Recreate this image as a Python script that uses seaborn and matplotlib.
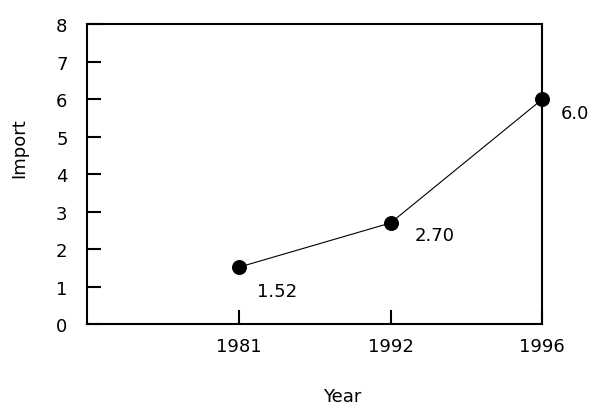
import matplotlib
matplotlib.use("Agg")
import matplotlib.pyplot as plt
import pandas as pd
import seaborn as sns

# datos
years = ["1981", "1992", "1996"]
imports = [1.52, 2.70, 6.0]
labels = ["1.52", "2.70", "6.0"]

df = pd.DataFrame({"Year": years, "Import": imports})

sns.set_style("white", {"xtick.bottom": True, "ytick.left": True,
                        "text.color": "black", "axes.labelcolor": "black"})
plt.rcParams['font.family'] = ['DejaVu Sans']

fig, ax = plt.subplots(figsize=(5.96, 4.06), dpi=100)
fig.subplots_adjust(left=0.146, right=0.910, top=0.938, bottom=0.199)

sns.lineplot(data=df, x="Year", y="Import", ax=ax, color="black", linewidth=0.8,
             marker="o", markersize=10, markeredgecolor="black", clip_on=False)

# etiquetas de cada punto
offsets = [(13, -17), (17, -9), (13, -10)]
for i, (lab, off) in enumerate(zip(labels, offsets)):
    ax.annotate(lab, xy=(i, imports[i]), xytext=off, textcoords="offset points",
                fontsize=13, ha="left", va="center", color="black")

ax.set_xlim(-1, 2)
ax.set_ylim(0, 8)
ax.set_yticks(range(0, 9))

for s in ax.spines.values():
    s.set_linewidth(1.5)
    s.set_color("black")

ax.tick_params(axis="both", direction="in", length=10, width=1.5, labelsize=13,
               colors="black", bottom=True, left=True)
ax.tick_params(axis="y", pad=14)
ax.tick_params(axis="x", pad=9)

ax.set_xlabel("Year", fontsize=13)
ax.set_ylabel("Import", fontsize=13)
ax.xaxis.set_label_coords(0.56, -0.21)
ax.yaxis.set_label_coords(-0.13, 0.59)

fig.savefig("out.png", dpi=100)
